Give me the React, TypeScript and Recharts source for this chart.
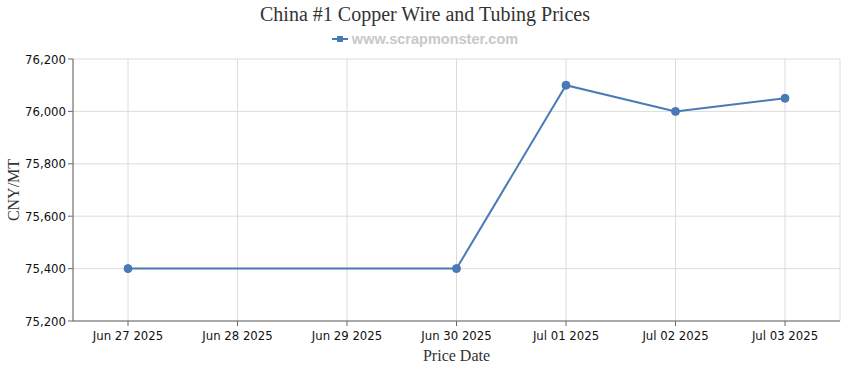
import { LineChart, Line, XAxis, YAxis, CartesianGrid } from "recharts";

const dates = [
  "Jun 27 2025",
  "Jun 28 2025",
  "Jun 29 2025",
  "Jun 30 2025",
  "Jul 01 2025",
  "Jul 02 2025",
  "Jul 03 2025",
];

// no quotes on the 28th and 29th, line just joins across them
const prices: (number | null)[] = [75400, null, null, 75400, 76100, 76000, 76050];

const yTicks = [75200, 75400, 75600, 75800, 76000, 76200];

const data = dates.map((d, i) => ({ date: d, price: prices[i] }));

const tickFont = "'DejaVu Sans Condensed', 'DejaVu Sans', sans-serif";
const serif = "'Liberation Serif', 'DejaVu Serif', serif";
const blue = "#4a7ab5";

export default function App() {
  return (
    <div style={{ position: "absolute", left: 0, top: 0, width: 850, height: 370, background: "#fff" }}>
      <div
        style={{
          position: "absolute",
          top: 3,
          left: 0,
          width: 850,
          textAlign: "center",
          fontFamily: serif,
          fontSize: 20,
          color: "#333",
        }}
      >
        China #1 Copper Wire and Tubing Prices
      </div>
      {/* legend sits under the title */}
      <div
        style={{
          position: "absolute",
          top: 31,
          left: 0,
          width: 850,
          display: "flex",
          justifyContent: "center",
          alignItems: "center",
          fontFamily: "'Liberation Sans', Arial, sans-serif",
          fontWeight: "bold",
          fontSize: 14.5,
          color: "#c8c8c8",
        }}
      >
        <svg width={16} height={8} style={{ marginRight: 4 }}>
          <line x1={0} y1={4} x2={16} y2={4} stroke={blue} strokeWidth={2} />
          <rect x={5} y={1} width={6} height={6} fill={blue} />
        </svg>
        www.scrapmonster.com
      </div>
      <LineChart
        width={850}
        height={370}
        data={data}
        margin={{ top: 59, right: 10, bottom: 0, left: 0 }}
      >
        <CartesianGrid stroke="#dcdcdc" strokeWidth={1} />
        <XAxis
          dataKey="date"
          padding={{ left: 55, right: 55 }}
          stroke="#666"
          tickSize={5}
          tickMargin={5}
          tick={{ fill: "#111", fontSize: 13, fontFamily: tickFont }}
          height={49}
          interval={0}
          label={{
            value: "Price Date",
            position: "insideBottom",
            offset: 9,
            fill: "#333",
            fontSize: 16,
            fontFamily: serif,
          }}
        />
        <YAxis
          domain={[75200, 76200]}
          ticks={yTicks}
          width={73}
          stroke="#666"
          tickSize={5}
          tickFormatter={(v: number) => v.toLocaleString("en-US")}
          tick={{ fill: "#111", fontSize: 13, fontFamily: tickFont }}
          label={{
            value: "CNY/MT",
            angle: -90,
            position: "insideLeft",
            offset: 13,
            style: { textAnchor: "middle" },
            fill: "#333",
            fontSize: 16,
            fontFamily: serif,
          }}
        />
        <Line
          type="linear"
          dataKey="price"
          stroke={blue}
          strokeWidth={2}
          dot={{ r: 4, fill: blue, stroke: blue, strokeWidth: 1 }}
          activeDot={false}
          connectNulls
          isAnimationActive={false}
        />
      </LineChart>
    </div>
  );
}
